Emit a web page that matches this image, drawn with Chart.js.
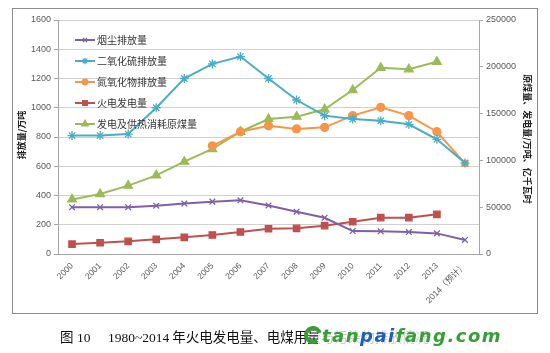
<!DOCTYPE html>
<html>
<head>
<meta charset="utf-8">
<script src="https://cdn.jsdelivr.net/npm/chart.js@4"></script>
<style>
  html, body { margin: 0; padding: 0; background: #fff; }
  #wrap { width: 550px; height: 353px; position: relative; }
</style>
</head>
<body>
<div id="wrap"><canvas id="chart" width="550" height="353"></canvas></div>
<script>
// categories and series
const years = ["2000", "2001", "2002", "2003", "2004", "2005", "2006", "2007",
  "2008", "2009", "2010", "2011", "2012", "2013", "2014（预计）"];
const smoke = [320, 320, 320, 330, 345, 358, 367, 332, 289, 248, 157, 155, 150, 141, 96];
const so2 = [810, 810, 820, 1000, 1200, 1300, 1350, 1200, 1053, 946, 923, 911, 887, 784, 622];
const nox = [null, null, null, null, null, 740, 836, 877, 855, 866, 946, 1003, 946, 836, 620];
const power = [10600, 12000, 13500, 15700, 17800, 20300, 23500, 27000, 27400, 30300, 34500, 38800, 38800, 42400, null];
const coal = [58300, 64100, 73000, 84000, 98600, 112200, 130600, 144200, 146700, 154600, 175200, 199000, 197300, 205400, null];

const seriesNames = ["烟尘排放量", "二氧化硫排放量", "氮氧化物排放量", "火电发电量", "发电及供热消耗原煤量"];
const leftTicks = [0, 200, 400, 600, 800, 1000, 1200, 1400, 1600];
const rightTicks = [0, 50000, 100000, 150000, 200000, 250000];

const leftTitle = "排放量/万吨";
const rightTitle = "原煤量、发电量/万吨、亿千瓦时";
const captionYears = "1980~2014";
const captionTail = " 年火电发电量、电煤用量与污染物排放情况";

const colors = ["#7f60a8", "#4bacc6", "#f79646", "#c0504d", "#9bbb59"];
const styles = ["crossRot", "star", "circle", "rect", "triangle"];
const radii = [4, 4.5, 4, 4.5, 5];

const noxStyles = nox.map((v, i) => i === nox.length - 1 ? "rect" : "circle");

function line(i, data, axis, pointStyle) {
    return {
        label: seriesNames[i],
        data: data,
        yAxisID: axis,
        borderColor: colors[i],
        backgroundColor: colors[i],
        pointBorderColor: colors[i],
        pointBackgroundColor: colors[i],
        pointStyle: pointStyle || styles[i],
        pointRadius: radii[i],
        pointBorderWidth: 1.3,
        borderWidth: 2,
        tension: 0
    };
}

// legend inside the plot, border, axis titles and caption
const decor = {
    id: "decor",
    afterDraw(chart) {
        const ctx = chart.ctx;
        ctx.save();

        // legend
        const ly = [40, 61, 82, 103, 124];
        ly.forEach((y, i) => {
            ctx.strokeStyle = colors[i];
            ctx.fillStyle = colors[i];
            ctx.lineWidth = 2;
            ctx.beginPath();
            ctx.moveTo(75, y);
            ctx.lineTo(95, y);
            ctx.stroke();
            ctx.lineWidth = 1.2;
            Chart.helpers.drawPoint(ctx, {
                pointStyle: styles[i], radius: radii[i] - 1.2, borderWidth: 1.2
            }, 85, y);
            ctx.fillStyle = "#333";
            ctx.font = "10px 'Noto Sans CJK SC'";
            ctx.textBaseline = "middle";
            ctx.textAlign = "left";
            ctx.fillText(seriesNames[i], 97, y);
        });

        // outer frame
        ctx.strokeStyle = "#8c8c8c";
        ctx.lineWidth = 1;
        ctx.strokeRect(12.5, 8.5, 525, 305);

        // axis titles
        ctx.fillStyle = "#222";
        ctx.font = "bold 9px 'Noto Sans CJK SC'";
        ctx.textAlign = "center";
        ctx.textBaseline = "middle";
        ctx.save();
        ctx.translate(22, 135);
        ctx.rotate(-Math.PI / 2);
        ctx.fillText(leftTitle, 0, 0);
        ctx.restore();
        ctx.save();
        ctx.translate(527, 139);
        ctx.rotate(Math.PI / 2);
        ctx.fillText(rightTitle, 0, 0);
        ctx.restore();

        // caption
        ctx.textAlign = "left";
        ctx.textBaseline = "alphabetic";
        ctx.fillStyle = "#111";
        let x = 60;
        ctx.font = "13.5px 'Noto Sans CJK SC'";
        ctx.fillText("图", x, 342);
        x += 17;
        ctx.font = "13.5px 'Liberation Serif'";
        ctx.fillText("10", x, 342);
        x += 31;
        ctx.fillText(captionYears, x, 342);
        x += ctx.measureText(captionYears).width;
        ctx.font = "13.5px 'Noto Sans CJK SC'";
        ctx.fillText(captionTail, x, 342);

        // watermark
        ctx.fillStyle = "rgba(255,255,255,0.78)";
        ctx.fillRect(318, 324, 200, 24);
        ctx.strokeStyle = "#3a9d3a";
        ctx.lineWidth = 4;
        ctx.beginPath();
        ctx.arc(313, 335, 7, 0.3 * Math.PI, 1.9 * Math.PI);
        ctx.stroke();
        ctx.font = "italic bold 18px 'DejaVu Sans'";
        ctx.letterSpacing = "1.5px";
        let wx = 322;
        [["tan", "#35a035"], ["pai", "#1f5fb8"], ["fang.com", "#35a035"]].forEach(p => {
            ctx.fillStyle = p[1];
            ctx.fillText(p[0], wx, 342);
            wx += ctx.measureText(p[0]).width;
        });

        ctx.restore();
    }
};

Chart.defaults.font.family = "'Liberation Sans', 'Noto Sans CJK SC'";
Chart.defaults.font.size = 9;
Chart.defaults.color = "#595959";

new Chart(document.getElementById("chart"), {
    type: "line",
    data: {
        labels: years,
        datasets: [
            line(0, smoke, "yL"),
            line(1, so2, "yL"),
            line(2, nox, "yL", noxStyles),
            line(3, power, "yR"),
            line(4, coal, "yR")
        ]
    },
    options: {
        responsive: false,
        animation: false,
        layout: { padding: { left: 0, right: 0, top: 20, bottom: 0 } },
        plugins: { legend: { display: false }, tooltip: { enabled: false } },
        scales: {
            x: {
                offset: true,
                grid: { display: false, drawTicks: false },
                border: { color: "#a6a6a6" },
                ticks: { minRotation: 45, maxRotation: 45, padding: 7, autoSkip: false,
                    font: { size: 8.5 } },
                afterFit(s) { s.height = 99; }
            },
            yL: {
                position: "left",
                min: 0, max: 1600,
                afterBuildTicks(s) { s.ticks = leftTicks.map(v => ({ value: v })); },
                grid: { color: "#d0d0d0", tickLength: 4, tickColor: "#a6a6a6" },
                border: { color: "#a6a6a6" },
                ticks: { padding: 3, callback: v => String(v) },
                afterFit(s) { s.width = 58; }
            },
            yR: {
                position: "right",
                min: 0, max: 250000,
                afterBuildTicks(s) { s.ticks = rightTicks.map(v => ({ value: v })); },
                grid: { drawOnChartArea: false, tickLength: 4, tickColor: "#a6a6a6" },
                border: { color: "#a6a6a6" },
                ticks: { padding: 3, callback: v => String(v) },
                afterFit(s) { s.width = 71; }
            }
        }
    },
    plugins: [decor]
});
</script>
</body>
</html>
